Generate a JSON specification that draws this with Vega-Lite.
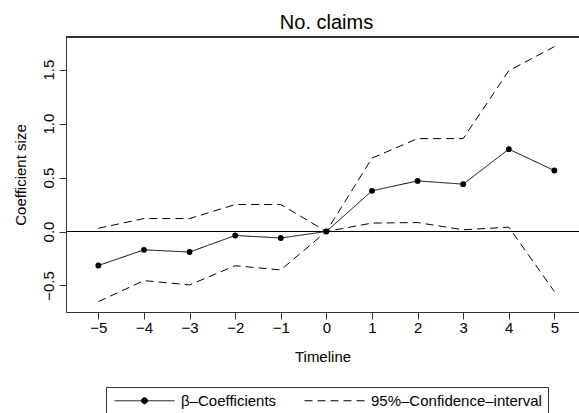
{
  "$schema": "https://vega.github.io/schema/vega-lite/v6.json",
  "autosize": {"type": "none"},
  "width": 513,
  "height": 275,
  "padding": {"left": 66, "top": 37, "right": 0, "bottom": 101},
  "background": "white",
  "title": {"text": "No. claims", "font": "Liberation Sans", "fontSize": 20, "fontWeight": "normal", "color": "black", "anchor": "middle", "dx": 4, "baseline": "alphabetic", "offset": -12},
  "config": {
    "view": {"stroke": null},
    "axis": {"grid": false, "domain": true, "domainColor": "#333", "domainWidth": 1, "tickColor": "#333", "tickSize": 7, "labelFont": "Liberation Sans", "labelFontSize": 15, "labelColor": "black", "titleFont": "Liberation Sans", "titleFontSize": 15, "titleFontWeight": "normal", "titleColor": "black"}
  },
  "data": {"values": [
    {"t": -5, "band": "coef", "series": "β–Coefficients", "value": -0.315},
    {"t": -4, "band": "coef", "series": "β–Coefficients", "value": -0.17},
    {"t": -3, "band": "coef", "series": "β–Coefficients", "value": -0.19},
    {"t": -2, "band": "coef", "series": "β–Coefficients", "value": -0.037},
    {"t": -1, "band": "coef", "series": "β–Coefficients", "value": -0.06},
    {"t": 0, "band": "coef", "series": "β–Coefficients", "value": 0},
    {"t": 1, "band": "coef", "series": "β–Coefficients", "value": 0.377},
    {"t": 2, "band": "coef", "series": "β–Coefficients", "value": 0.469},
    {"t": 3, "band": "coef", "series": "β–Coefficients", "value": 0.439},
    {"t": 4, "band": "coef", "series": "β–Coefficients", "value": 0.763},
    {"t": 5, "band": "coef", "series": "β–Coefficients", "value": 0.565},
    {"t": -5, "band": "hi", "series": "95%–Confidence–interval", "value": 0.03},
    {"t": -4, "band": "hi", "series": "95%–Confidence–interval", "value": 0.12},
    {"t": -3, "band": "hi", "series": "95%–Confidence–interval", "value": 0.12},
    {"t": -2, "band": "hi", "series": "95%–Confidence–interval", "value": 0.25},
    {"t": -1, "band": "hi", "series": "95%–Confidence–interval", "value": 0.25},
    {"t": 0, "band": "hi", "series": "95%–Confidence–interval", "value": 0},
    {"t": 1, "band": "hi", "series": "95%–Confidence–interval", "value": 0.68},
    {"t": 2, "band": "hi", "series": "95%–Confidence–interval", "value": 0.861},
    {"t": 3, "band": "hi", "series": "95%–Confidence–interval", "value": 0.861},
    {"t": 4, "band": "hi", "series": "95%–Confidence–interval", "value": 1.49},
    {"t": 5, "band": "hi", "series": "95%–Confidence–interval", "value": 1.713},
    {"t": -5, "band": "lo", "series": "95%–Confidence–interval", "value": -0.65},
    {"t": -4, "band": "lo", "series": "95%–Confidence–interval", "value": -0.455},
    {"t": -3, "band": "lo", "series": "95%–Confidence–interval", "value": -0.495},
    {"t": -2, "band": "lo", "series": "95%–Confidence–interval", "value": -0.317},
    {"t": -1, "band": "lo", "series": "95%–Confidence–interval", "value": -0.356},
    {"t": 0, "band": "lo", "series": "95%–Confidence–interval", "value": 0},
    {"t": 1, "band": "lo", "series": "95%–Confidence–interval", "value": 0.078},
    {"t": 2, "band": "lo", "series": "95%–Confidence–interval", "value": 0.083},
    {"t": 3, "band": "lo", "series": "95%–Confidence–interval", "value": 0.016},
    {"t": 4, "band": "lo", "series": "95%–Confidence–interval", "value": 0.04},
    {"t": 5, "band": "lo", "series": "95%–Confidence–interval", "value": -0.556}
  ]},
  "encoding": {
    "x": {"field": "t", "type": "quantitative", "scale": {"domain": [-5.71, 5.54], "nice": false, "zero": false},
      "axis": {"values": [-5, -4, -3, -2, -1, 0, 1, 2, 3, 4, 5], "format": "d", "title": "Timeline", "labelBaseline": "alphabetic", "labelPadding": 13, "titleBaseline": "alphabetic", "titleY": 49}},
    "y": {"field": "value", "type": "quantitative", "scale": {"domain": [-0.746, 1.8025], "nice": false, "zero": false},
      "axis": {"values": [-0.5, 0, 0.5, 1, 1.5], "format": ".1f", "title": "Coefficient size", "labelAngle": -90, "labelAlign": "center", "labelBaseline": "alphabetic", "labelPadding": 6, "titleAngle": -90, "titleBaseline": "alphabetic", "titleAlign": "center", "titleX": -41, "titleY": 137.5}}
  },
  "layer": [
    {"mark": {"type": "rule", "color": "black", "strokeWidth": 1}, "encoding": {"y": {"datum": 0}, "x": null}},
    {"mark": {"type": "rule", "color": "#333", "strokeWidth": 1}, "encoding": {"y": {"datum": 1.8025}, "x": null}},
    {"mark": {"type": "line", "color": "black", "strokeWidth": 1},
      "encoding": {
        "detail": {"field": "band"},
        "strokeDash": {"field": "series", "type": "nominal",
          "scale": {"domain": ["β–Coefficients", "95%–Confidence–interval"], "range": [[1, 0], [8, 5]]},
          "legend": {"orient": "none", "legendX": 40, "legendY": 350, "direction": "horizontal", "title": null,
            "strokeColor": "#333", "padding": 6, "labelFont": "Liberation Sans", "labelFontSize": 15, "labelColor": "black",
            "symbolSize": 100, "symbolOffset": 25, "labelOffset": 29, "columnPadding": 25,
            "symbolStrokeWidth": 1, "symbolStrokeColor": "black", "labelLimit": 300,
            "encode": {"symbols": {"update": {
              "shape": {"signal": "datum.value === 'β–Coefficients' ? 'M-6,0H6M-0.6,0A0.6,0.6,0,1,1,0.6,0A0.6,0.6,0,1,1,-0.6,0Z' : 'M-6,0H6'"},
              "fill": {"signal": "datum.value === 'β–Coefficients' ? 'black' : 'transparent'"},
              "stroke": {"value": "black"}
            }}}}
        }
      }},
    {"transform": [{"filter": "datum.band === 'coef'"}],
      "mark": {"type": "point", "filled": true, "color": "black", "size": 34, "opacity": 1}}
  ]
}
